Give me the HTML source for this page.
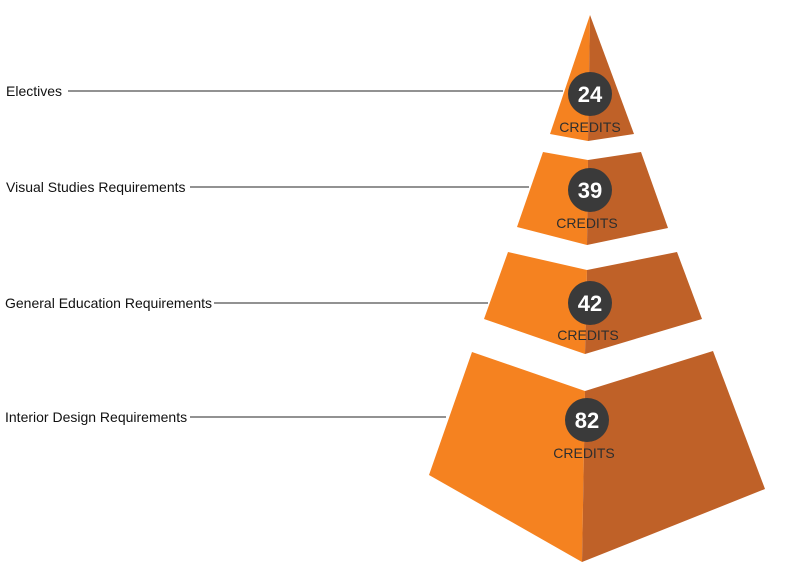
<!DOCTYPE html>
<html><head><meta charset="utf-8"><style>
html,body{margin:0;padding:0;background:#fff;}
svg{display:block;font-family:"Liberation Sans",Arial,sans-serif;}
</style></head><body>
<svg width="800" height="576" viewBox="0 0 800 576">
<g stroke="#6e6e6e" stroke-width="1.5">
<line x1="68" y1="91" x2="563" y2="91"/>
<line x1="190" y1="187" x2="529" y2="187"/>
<line x1="214" y1="303" x2="488" y2="303"/>
<line x1="190" y1="417" x2="446" y2="417"/>
</g>
<g font-size="14" fill="#111">
<text x="6" y="96">Electives</text>
<text x="6" y="192">Visual Studies Requirements</text>
<text x="5" y="308">General Education Requirements</text>
<text x="5" y="422">Interior Design Requirements</text>
</g>
<polygon points="590,15 550,134 588,141" fill="#f58220"/>
<polygon points="590,15 634,134 588,141" fill="#bf6128"/>
<polygon points="543,152 588,160 587,245 517,227" fill="#f58220"/>
<polygon points="588,160 641,152 668,228 587,245" fill="#bf6128"/>
<polygon points="508,252 587,270 585,354 484,319" fill="#f58220"/>
<polygon points="587,270 677,252 702,319 585,354" fill="#bf6128"/>
<polygon points="472,352 585,391 582,562 429,475" fill="#f58220"/>
<polygon points="585,391 713,351 765,489 582,562" fill="#bf6128"/>
<g fill="#3a3a3a">
<circle cx="590" cy="94" r="22"/>
<circle cx="590" cy="190" r="22"/>
<circle cx="590" cy="303" r="22"/>
<circle cx="587" cy="420" r="22"/>
</g>
<g fill="#fff" font-size="22" font-weight="bold" text-anchor="middle">
<text x="590" y="102">24</text>
<text x="590" y="198">39</text>
<text x="590" y="311">42</text>
<text x="587" y="428">82</text>
</g>
<g fill="#2e2e2e" font-size="14" text-anchor="middle">
<text x="590" y="132">CREDITS</text>
<text x="587" y="228">CREDITS</text>
<text x="588" y="340">CREDITS</text>
<text x="584" y="458">CREDITS</text>
</g>
</svg>
</body></html>
